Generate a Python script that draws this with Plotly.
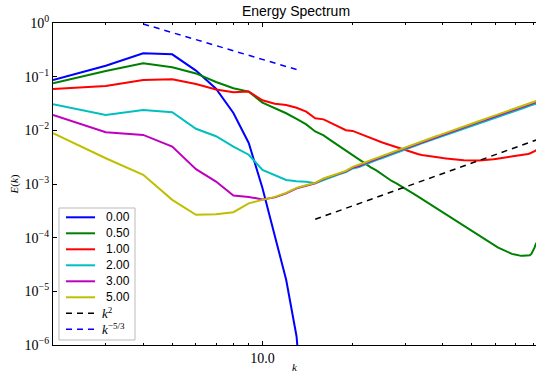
import math
import plotly.graph_objects as go

# ---------------- data ----------------
k = list(range(2, 83))
k_blue = list(range(2, 15))

E_000 = [0.0868, 0.160, 0.273, 0.261, 0.130, 0.0598, 0.0211, 0.00582, 8.46e-4,
         1.13e-4, 1.64e-5, 1.44e-6, 1.0e-8]

E_050 = [0.0753, 0.128, 0.178, 0.150, 0.115, 0.0797, 0.0608, 0.0526,
         0.0328, 0.0258, 0.0208, 0.0163, 0.0129, 0.00954, 0.00804, 0.00635, 0.00512, 0.00413,
         0.00341, 0.00287, 0.00237, 0.00204, 0.00179, 0.00154, 0.00130, 0.00114, 0.00103, 9.22e-4,
         8.10e-4, 7.28e-4, 6.54e-4, 5.88e-4, 5.28e-4, 4.74e-4, 4.35e-4, 3.91e-4, 3.59e-4, 3.29e-4,
         3.02e-4, 2.77e-4, 2.55e-4, 2.34e-4, 2.15e-4, 1.97e-4, 1.81e-4, 1.66e-4, 1.52e-4, 1.43e-4,
         1.34e-4, 1.23e-4, 1.15e-4, 1.08e-4, 1.01e-4, 9.50e-5, 8.91e-5, 8.35e-5, 7.83e-5, 7.34e-5,
         6.89e-5, 6.60e-5, 6.32e-5, 6.05e-5, 5.80e-5, 5.56e-5, 5.32e-5, 5.10e-5, 4.99e-5, 4.89e-5,
         4.78e-5, 4.68e-5, 4.58e-5, 4.58e-5, 4.58e-5, 4.58e-5, 4.58e-5, 4.58e-5, 4.68e-5, 4.99e-5,
         5.70e-5, 6.60e-5, 8.00e-5]

E_100 = [0.0590, 0.0671, 0.0868, 0.0894, 0.0731, 0.0578, 0.0512, 0.0530,
         0.0363, 0.0313, 0.0297, 0.0264, 0.0223, 0.0168, 0.0160, 0.01344, 0.01157, 0.01004,
         0.00975, 0.00876, 0.00770, 0.00707, 0.00648, 0.00600, 0.00558, 0.00519, 0.00484, 0.00456,
         0.00432, 0.00405, 0.00379, 0.00363, 0.00348, 0.00338, 0.00329, 0.00322, 0.00315, 0.00309,
         0.00304, 0.00299, 0.00293, 0.00289, 0.00286, 0.00282, 0.00280, 0.00277, 0.00275, 0.00274,
         0.00273, 0.00273, 0.00274, 0.00275, 0.00276, 0.00277, 0.00280, 0.00282, 0.00284, 0.00288,
         0.00292, 0.00296, 0.00300, 0.00304, 0.00308, 0.00312, 0.00315, 0.00318, 0.00322, 0.00325,
         0.00328, 0.00332, 0.00337, 0.00341, 0.00345, 0.00351, 0.00357, 0.00363, 0.00371, 0.00379,
         0.00393, 0.00408, 0.00432]

E_200 = [3.06e-2, 1.94e-2, 2.40e-2, 2.17e-2, 1.07e-2, 7.77e-3, 4.97e-3, 3.51e-3,
         1.83e-3, 1.45e-3, 1.19e-3, 1.13e-3, 1.10e-3, 1.03e-3, 1.19e-3, 1.36e-3, 1.52e-3, 1.66e-3,
         1.95e-3, 2.08e-3, 2.32e-3, 2.56e-3, 2.80e-3, 3.02e-3, 3.29e-3, 3.57e-3, 3.84e-3, 4.14e-3,
         4.45e-3, 4.73e-3, 5.06e-3, 5.37e-3, 5.71e-3, 6.05e-3, 6.39e-3, 6.74e-3, 7.12e-3, 7.49e-3,
         7.89e-3, 8.28e-3, 8.68e-3, 9.09e-3, 9.52e-3, 9.96e-3, 1.040e-2, 1.086e-2, 1.132e-2, 1.179e-2,
         1.228e-2, 1.276e-2, 1.327e-2, 1.377e-2, 1.429e-2, 1.481e-2, 1.533e-2, 1.588e-2, 1.641e-2, 1.696e-2,
         1.751e-2, 1.807e-2, 1.863e-2, 1.921e-2, 1.978e-2, 2.037e-2, 2.097e-2, 2.157e-2, 2.218e-2, 2.279e-2,
         2.341e-2, 2.404e-2, 2.467e-2, 2.531e-2, 2.596e-2, 2.661e-2, 2.727e-2, 2.794e-2, 2.861e-2, 2.929e-2,
         2.997e-2, 3.066e-2, 3.135e-2]

E_300 = [1.94e-2, 9.22e-3, 8.21e-3, 4.97e-3, 1.89e-3, 1.11e-3, 6.13e-4, 5.75e-4,
         5.17e-4, 5.63e-4, 6.68e-4, 8.28e-4, 9.30e-4, 1.03e-3, 1.25e-3, 1.39e-3, 1.58e-3, 1.72e-3,
         2.02e-3, 2.17e-3, 2.42e-3, 2.67e-3, 2.92e-3, 3.15e-3, 3.44e-3, 3.72e-3, 4.00e-3, 4.32e-3,
         4.65e-3, 4.93e-3, 5.28e-3, 5.61e-3, 5.96e-3, 6.32e-3, 6.67e-3, 7.04e-3, 7.43e-3, 7.81e-3,
         8.24e-3, 8.64e-3, 9.05e-3, 9.48e-3, 9.94e-3, 1.040e-2, 1.085e-2, 1.133e-2, 1.181e-2, 1.231e-2,
         1.282e-2, 1.332e-2, 1.384e-2, 1.437e-2, 1.491e-2, 1.546e-2, 1.601e-2, 1.658e-2, 1.716e-2, 1.774e-2,
         1.834e-2, 1.894e-2, 1.956e-2, 2.018e-2, 2.080e-2, 2.145e-2, 2.210e-2, 2.275e-2, 2.342e-2, 2.410e-2,
         2.479e-2, 2.548e-2, 2.619e-2, 2.690e-2, 2.763e-2, 2.836e-2, 2.911e-2, 2.986e-2, 3.062e-2, 3.139e-2,
         3.216e-2, 3.295e-2, 3.374e-2]

E_500 = [8.83e-3, 3.02e-3, 1.48e-3, 5.06e-4, 2.66e-4, 2.74e-4, 2.98e-4, 4.35e-4,
         5.06e-4, 5.75e-4, 6.83e-4, 8.46e-4, 9.50e-4, 1.05e-3, 1.27e-3, 1.42e-3, 1.61e-3, 1.75e-3,
         2.08e-3, 2.26e-3, 2.52e-3, 2.78e-3, 3.04e-3, 3.28e-3, 3.58e-3, 3.88e-3, 4.17e-3, 4.50e-3,
         4.84e-3, 5.14e-3, 5.50e-3, 5.84e-3, 6.21e-3, 6.58e-3, 6.95e-3, 7.33e-3, 7.74e-3, 8.14e-3,
         8.58e-3, 9.00e-3, 9.43e-3, 9.88e-3, 1.035e-2, 1.083e-2, 1.130e-2, 1.180e-2, 1.230e-2, 1.282e-2,
         1.335e-2, 1.387e-2, 1.442e-2, 1.497e-2, 1.553e-2, 1.610e-2, 1.668e-2, 1.727e-2, 1.787e-2, 1.848e-2,
         1.910e-2, 1.973e-2, 2.037e-2, 2.102e-2, 2.167e-2, 2.234e-2, 2.302e-2, 2.370e-2, 2.440e-2, 2.510e-2,
         2.582e-2, 2.654e-2, 2.728e-2, 2.802e-2, 2.878e-2, 2.954e-2, 3.032e-2, 3.110e-2, 3.190e-2, 3.270e-2,
         3.350e-2, 3.432e-2, 3.515e-2]

k_ref2 = [15, 85]
E_ref2 = [2.2e-4, 7.1e-3]
k_ref53 = [4, 13.4]
E_ref53 = [0.96, 0.129]

labels = ["0.00", "0.50", "1.00", "2.00", "3.00", "5.00"]
colors = ["#0000ff", "#008000", "#ff0000", "#00bfbf", "#bf00bf", "#bfbf00"]
ref_labels = ["<i>k</i><sup>2</sup>", "<i>k</i><sup>−5/3</sup>"]
ref_colors = ["black", "blue"]

x_major = [10]
x_major_text = ["10.0"]
x_minor = [3, 4, 5, 6, 7, 8, 9, 20, 30, 40, 50, 60, 70, 80]
y_ticks = [1, 1e-1, 1e-2, 1e-3, 1e-4, 1e-5, 1e-6]
y_text = ["10<sup>0</sup>", "10<sup>−1</sup>", "10<sup>−2</sup>", "10<sup>−3</sup>",
          "10<sup>−4</sup>", "10<sup>−5</sup>", "10<sup>−6</sup>"]

# ---------------- layout constants ----------------
W, H = 536, 373
ML, MR, MT, MB = 53, 0, 23, 28
PW, PH = W - ML - MR, H - MT - MB

serif = "Liberation Serif, DejaVu Serif, serif"
sans = "Liberation Sans, Arial, sans-serif"


def px(xp):
    return (xp - ML) / PW


def py(yp):
    return (H - MB - yp) / PH


fig = go.Figure()
series_k = [k_blue, k, k, k, k, k]
series_E = [E_000, E_050, E_100, E_200, E_300, E_500]
for name, kk, ee, col in zip(labels, series_k, series_E, colors):
    fig.add_trace(go.Scatter(x=kk, y=ee, mode="lines", name=name,
                             line=dict(color=col, width=2), showlegend=False))

fig.add_trace(go.Scatter(x=k_ref2, y=E_ref2, mode="lines", name=ref_labels[0],
                         line=dict(color=ref_colors[0], width=1.5, dash="6px,5px"), showlegend=False))
fig.add_trace(go.Scatter(x=k_ref53, y=E_ref53, mode="lines", name=ref_labels[1],
                         line=dict(color=ref_colors[1], width=1.5, dash="6px,5px"), showlegend=False))

# ---------------- legend (drawn as a boxed key) ----------------
shapes = [dict(type="rect", xref="paper", yref="paper", x0=px(59), x1=px(135), y0=py(340), y1=py(208),
               line=dict(color="#bbbbbb", width=1), fillcolor="white", layer="above")]
annotations = []
row0, drow = 217.3, 16.0
entries = [(l, c, "solid", sans) for l, c in zip(labels, colors)] + \
          [(l, c, "6px,5px", serif) for l, c in zip(ref_labels, ref_colors)]
for i, (txt, col, dash, fam) in enumerate(entries):
    yy = row0 + i * drow
    shapes.append(dict(type="line", xref="paper", yref="paper", x0=px(66), x1=px(95),
                       y0=py(yy), y1=py(yy), layer="above",
                       line=dict(color=col, width=2 if dash == "solid" else 1.5, dash=dash)))
    annotations.append(dict(text=txt, xref="paper", yref="paper", x=px(104 if fam == sans else 100),
                            y=py(yy), xanchor="left", yanchor="middle", showarrow=False,
                            font=dict(family=fam, size=12 if fam == sans else 13, color="black")))

fig.update_layout(
    width=W, height=H,
    margin=dict(l=ML, r=MR, t=MT, b=MB, autoexpand=False),
    paper_bgcolor="white", plot_bgcolor="white",
    title=dict(text="Energy Spectrum", x=(296 / W), xref="container", xanchor="center",
               y=1 - 11 / H, yref="container", yanchor="middle",
               font=dict(family=sans, size=14, color="black")),
    showlegend=False,
    shapes=shapes,
    annotations=annotations,
)

fig.update_xaxes(type="log", range=[math.log10(2), math.log10(81.85)], automargin=False,
                 showgrid=False, zeroline=False, showline=True, linecolor="black", linewidth=1.3,
                 mirror="ticks", ticks="inside", ticklen=4, tickwidth=1, tickcolor="black",
                 tickmode="array", tickvals=x_major, ticktext=x_major_text,
                 tickfont=dict(family=serif, size=14, color="black"),
                 minor=dict(tickmode="array", tickvals=x_minor, ticks="inside", ticklen=2,
                            tickwidth=1, tickcolor="black", showgrid=False),
                 title=dict(text="<i>k</i>", font=dict(family=serif, size=11, color="black"), standoff=7))

fig.update_yaxes(type="log", range=[-6, 0], automargin=False,
                 showgrid=False, zeroline=False, showline=True, linecolor="black", linewidth=1.3,
                 mirror=False, ticks="inside", ticklen=4, tickwidth=1, tickcolor="black",
                 tickmode="array", tickvals=y_ticks, ticktext=y_text,
                 tickfont=dict(family=serif, size=14, color="black"),
                 title=dict(text="<i>E</i>(<i>k</i>)", font=dict(family=serif, size=11, color="black"), standoff=3))

fig.write_html("out.html")
